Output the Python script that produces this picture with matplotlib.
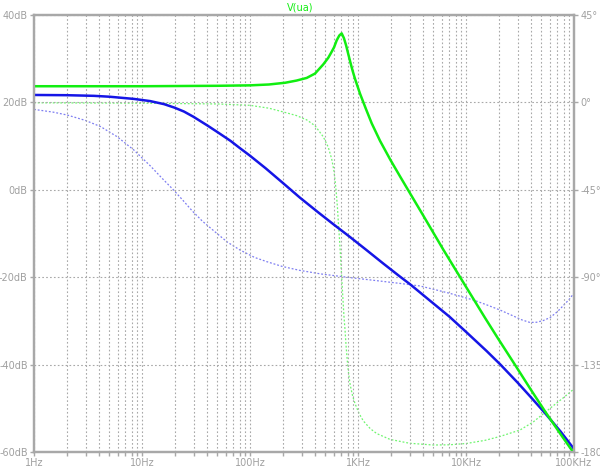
import numpy as np
import matplotlib
matplotlib.use("Agg")
import matplotlib.pyplot as plt
from matplotlib.ticker import FixedLocator, NullFormatter

# --- values ----------------------------------------------------------------
freq_green_mag = [1, 10, 50, 100, 150, 212, 270, 335, 400, 477, 530, 565, 600,
                  635, 671, 706, 741, 777, 810, 847, 890, 938, 1044, 1180, 1340,
                  1600, 2000, 2500, 2950, 4000, 6166, 10000, 15000, 20000, 29200,
                  40000, 53900, 75000, 100000]
green_mag_db = [23.7, 23.7, 23.8, 23.9, 24.1, 24.5, 25.0, 25.6, 26.6, 28.7, 30.2,
                31.4, 32.6, 34.2, 35.3, 35.8, 34.7, 33.0, 31.2, 29.3, 27.3, 25.4,
                22.0, 18.6, 15.2, 11.2, 6.8, 2.7, -0.3, -5.8, -13.7, -22.2, -29.3,
                -34.2, -40.5, -45.8, -50.7, -55.9, -60.3]

freq_green_ph = [1, 10, 50, 100, 150, 203, 270, 335, 400, 477, 530, 570, 600,
                 626, 645, 660, 675, 690, 706, 725, 741, 758, 777, 796, 820, 847,
                 890, 938, 1020, 1120, 1300, 1490, 1977, 3000, 4980, 7000, 10140,
                 15000, 20650, 31600, 42000, 60000, 80000, 100000]
green_ph_deg = [-0.2, -0.4, -0.8, -1.5, -3.0, -4.9, -6.8, -9.0, -12.0, -17.7,
                -23.0, -29.0, -35.5, -45.0, -54.0, -63.0, -71.0, -80.0, -90.0,
                -101.0, -110.0, -117.0, -126.0, -133.0, -140.0, -145.5, -151.0,
                -155.0, -160.0, -164.0, -168.0, -170.5, -173.5, -175.5, -176.4,
                -176.3, -175.6, -174.0, -172.0, -168.7, -164.5, -157.5, -152.0,
                -147.5]

freq_blue_mag = [1, 2, 3.6, 5, 8.4, 11.9, 16, 20, 24.5, 30, 40.4, 50, 66, 80,
                 100, 140, 203, 290, 430, 600, 843, 1200, 1700, 2400, 3030, 4500,
                 7000, 10000, 15530, 20650, 30000, 40000, 53900, 75000, 100000]
blue_mag_db = [21.7, 21.65, 21.5, 21.3, 20.8, 20.3, 19.6, 18.8, 17.9, 16.7, 14.7,
               13.2, 11.2, 9.6, 7.8, 4.9, 1.5, -1.8, -5.2, -8.0, -10.8, -13.8,
               -16.8, -19.7, -21.6, -25.1, -29.0, -32.5, -36.9, -39.9, -44.1,
               -47.5, -51.1, -55.3, -59.3]

freq_blue_ph = [1, 1.5, 2.03, 3, 4.15, 5.9, 8.4, 12, 15, 19.6, 24, 29, 36, 49.2,
                62, 80.8, 110, 143, 200, 290, 450, 843, 1500, 2449, 3720, 5000,
                7070, 11800, 16000, 20650, 27000, 33000, 39100, 45000, 52000,
                60000, 70000, 80000, 90000, 100000]
blue_ph_deg = [-3.6, -5.0, -6.5, -9.3, -12.5, -17.7, -24.5, -32.8, -38.5, -45.1,
               -50.5, -55.7, -61.0, -67.4, -72.0, -76.0, -79.8, -82.0, -84.5,
               -86.5, -88.3, -90.2, -91.8, -93.2, -94.5, -96.2, -98.3, -101.8,
               -104.5, -106.9, -109.8, -112.0, -113.3, -113.2, -112.3, -110.8,
               -107.8, -104.5, -101.5, -98.2]

db_ticks = [40, 20, 0, -20, -40, -60]
ph_ticks = [45, 0, -45, -90, -135, -180]
x_decades = [1, 10, 100, 1000, 10000, 100000]
x_labels = ["1Hz", "10Hz", "100Hz", "1KHz", "10KHz", "100KHz"]

GREEN = "#11ee11"
BLUE = "#1515e6"
GREY = "#a8a8a8"
LABEL = "#a0a0a0"

fig = plt.figure(figsize=(6.0, 4.67), dpi=100)
fig.patch.set_facecolor("white")
ax = fig.add_axes([34 / 600, 15 / 467, 540 / 600, 437 / 467])
ax2 = ax.twinx()

ax.set_xscale("log")
ax.set_xlim(1, 100000)
ax.set_ylim(-60, 40)
ax2.set_ylim(-180, 45)

# grid: every 1..9 x decade vertically, every 20 dB horizontally
minor = [m * d for d in x_decades[:-1] for m in range(2, 10)]
ax.xaxis.set_major_locator(FixedLocator(x_decades))
ax.xaxis.set_minor_locator(FixedLocator(minor))
ax.xaxis.set_minor_formatter(NullFormatter())
ax.set_xticklabels(x_labels)
ax.set_yticks(db_ticks)
ax.set_yticklabels([f"{v}dB" for v in db_ticks])
ax2.set_yticks(ph_ticks)
ax2.set_yticklabels([f"{v}°" for v in ph_ticks])

gridstyle = dict(color=GREY, linestyle=(0, (1.5, 2.0)), linewidth=0.8)
ax.grid(True, axis="x", which="both", **gridstyle)
ax.grid(True, axis="y", which="major", **gridstyle)

for a in (ax, ax2):
    for sp in a.spines.values():
        sp.set_color(GREY)
        sp.set_linewidth(1.6)
    a.tick_params(axis="both", which="both", colors=GREY, labelcolor=LABEL,
                  labelsize=7, length=3, width=1, pad=1.5)

# phase traces (dotted) on the right axis
ax2.plot(freq_green_ph, green_ph_deg, color=GREEN, lw=0.9, alpha=0.6,
         linestyle=(0, (1.5, 1.5)))
ax2.plot(freq_blue_ph, blue_ph_deg, color=BLUE, lw=0.9, alpha=0.55,
         linestyle=(0, (1.5, 1.5)))

# magnitude traces on top
ax.set_zorder(ax2.get_zorder() + 1)
ax.patch.set_visible(False)
ax.plot(freq_blue_mag, blue_mag_db, color=BLUE, lw=1.8, solid_capstyle="butt")
ax.plot(freq_green_mag, green_mag_db, color=GREEN, lw=1.8, solid_capstyle="butt")

fig.text(0.5, 1 - 8 / 467, "V(ua)", color=GREEN, fontsize=7,
         ha="center", va="center")

fig.savefig("out.png", dpi=100, facecolor="white")
